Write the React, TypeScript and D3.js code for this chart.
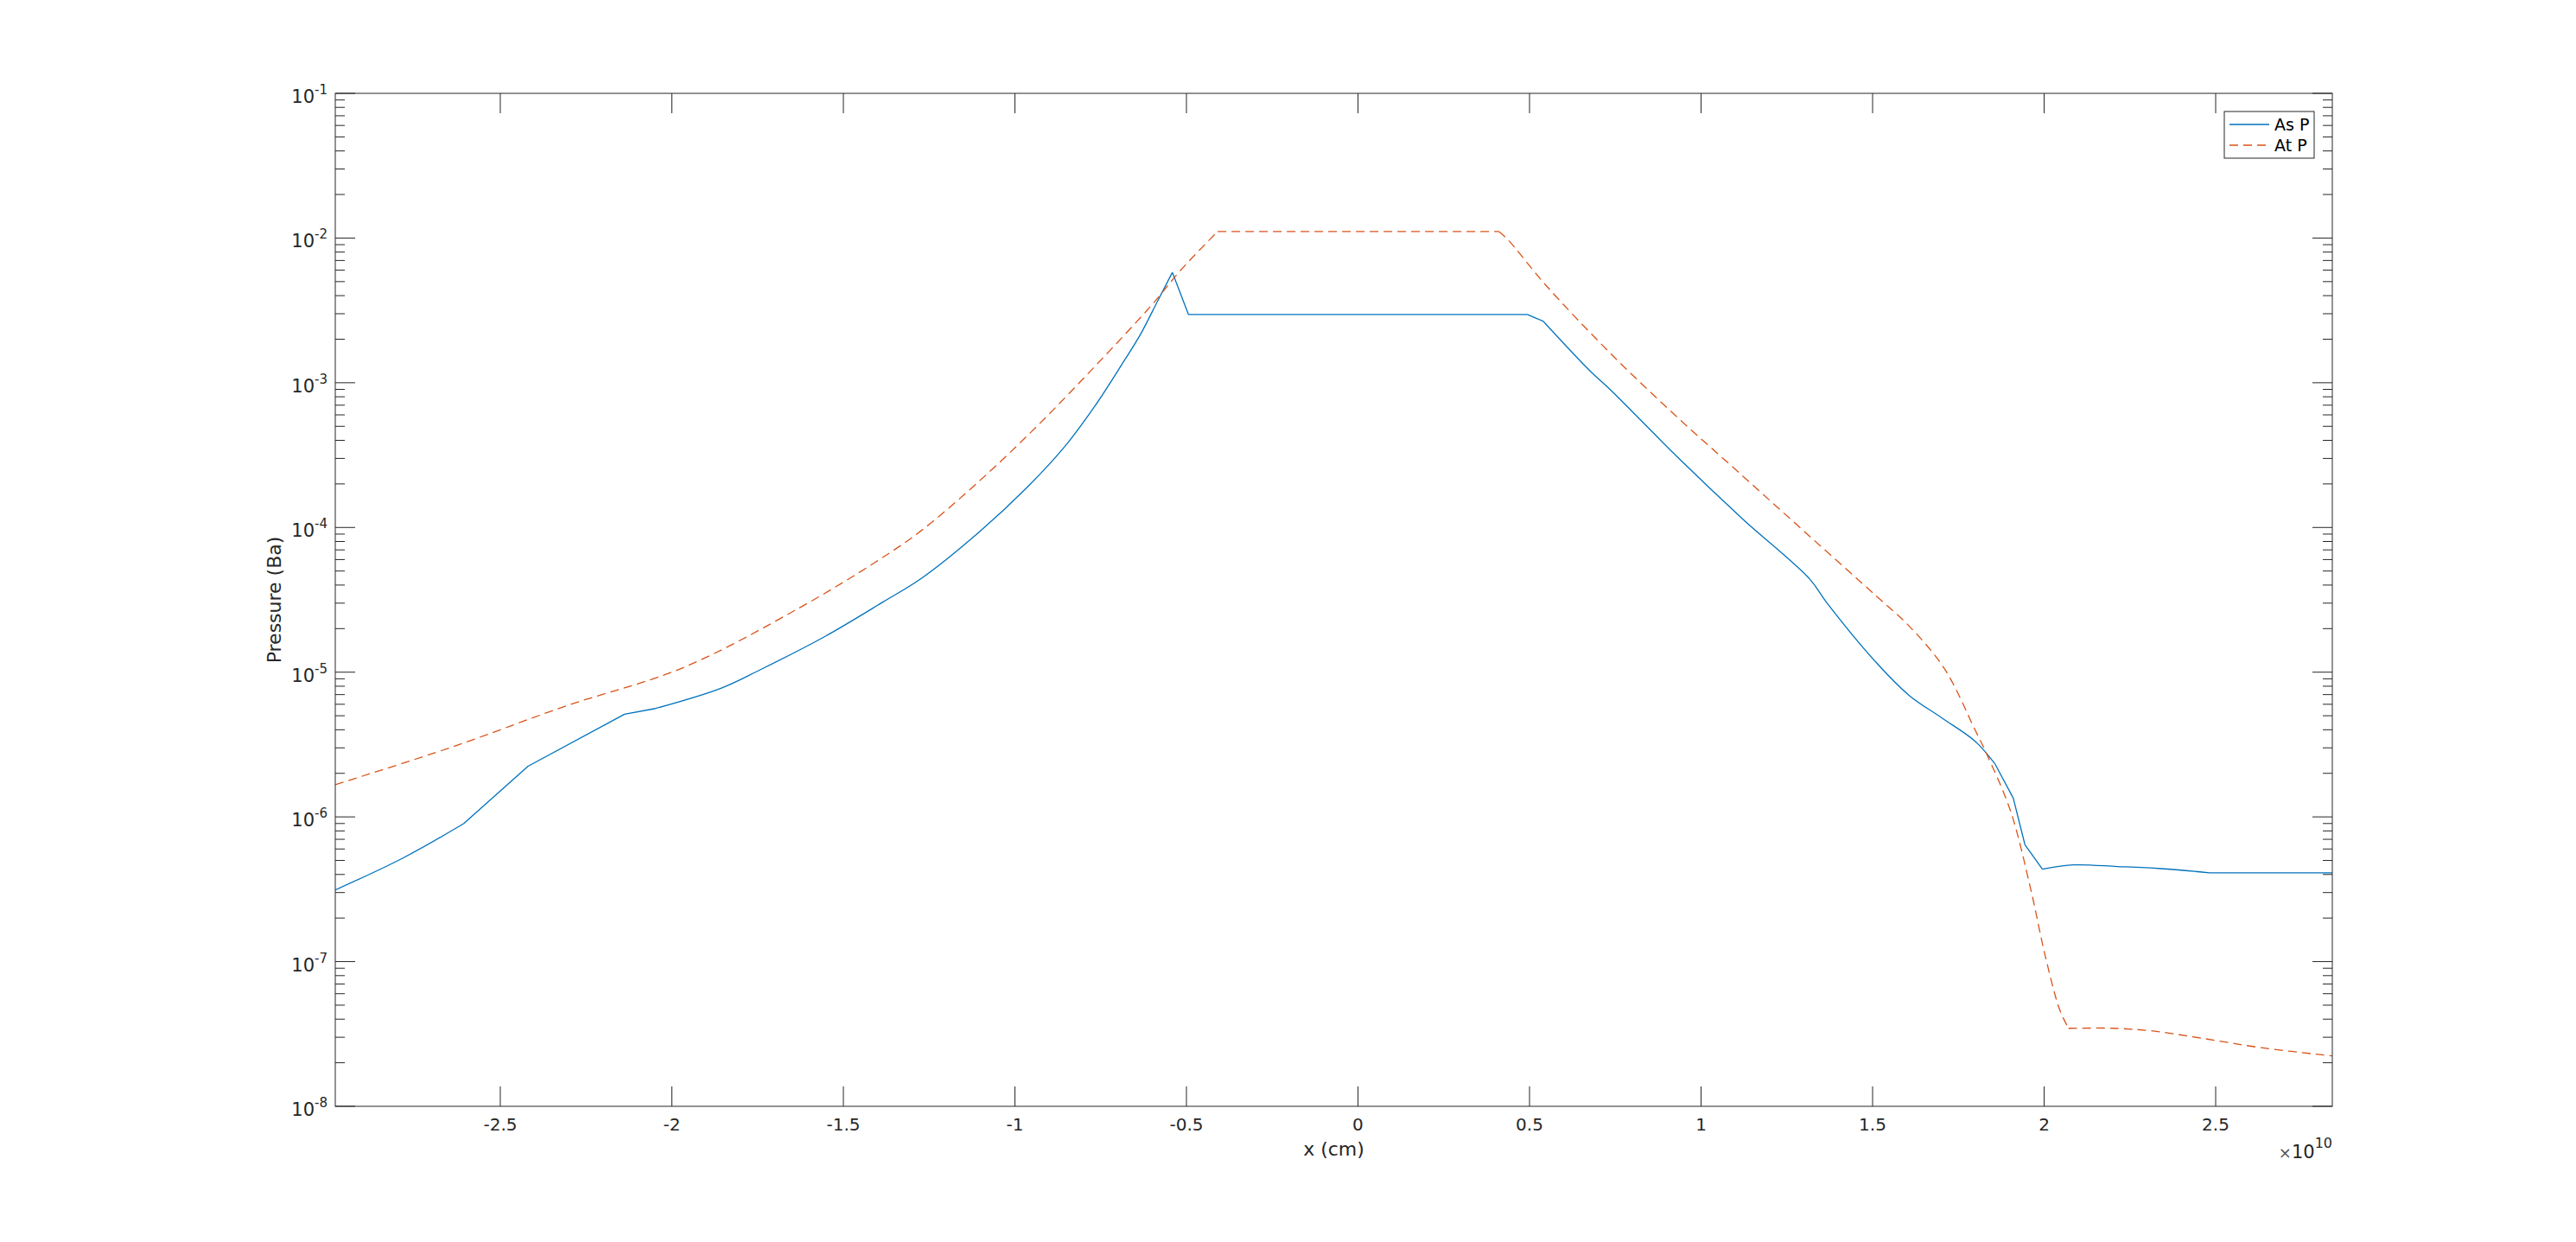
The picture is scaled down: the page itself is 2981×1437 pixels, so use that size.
import React from 'react';
import * as d3 from 'd3';

// x positions are in units of 1e10 cm
const asPX = [
  -2.981, -2.785, -2.607, -2.419, -2.138, -2.048, -1.857, -1.744, -1.553, -1.384,
  -1.272, -1.104, -0.961, -0.852, -0.768, -0.684, -0.634, -0.583, -0.541, -0.494,
  0.494, 0.54, 0.676, 0.739, 0.931, 1.124, 1.317, 1.366, 1.51, 1.606,
  1.703, 1.799, 1.857, 1.91, 1.944, 1.995, 2.087, 2.213, 2.339, 2.482, 2.84,
];
const asPY = [
  3.13e-7, 5.18e-7, 8.97e-7, 2.24e-6, 5.12e-6, 5.61e-6, 7.74e-6, 1.035e-5, 1.77e-5, 3.06e-5,
  4.46e-5, 9.31e-5, 1.93e-4, 3.69e-4, 6.84e-4, 1.39e-3, 2.16e-3, 3.71e-3, 5.79e-3, 2.96e-3,
  2.96e-3, 2.66e-3, 1.21e-3, 8.79e-4, 3.07e-4, 1.13e-4, 4.39e-5, 3.03e-5, 1.17e-5, 6.93e-6,
  4.81e-6, 3.33e-6, 2.32e-6, 1.35e-6, 6.43e-7, 4.35e-7, 4.66e-7, 4.54e-7, 4.39e-7, 4.11e-7, 4.11e-7,
];
// sharp corners in the As P curve (x values where the line bends abruptly)
const asPCorners = [
  -2.607, -2.419, -2.138, -2.048, -0.541, -0.494, 0.494, 0.54, 1.857, 1.91, 1.944, 1.995, 2.482,
];

const atPX = [
  -2.981, -2.644, -2.306, -1.969, -1.632, -1.407, -1.272, -1.104, -0.936, -0.768,
  -0.6, -0.516, -0.409, 0.41, 0.435, 0.547, 0.739, 0.931, 1.124, 1.317,
  1.51, 1.606, 1.709, 1.799, 1.831, 1.902, 1.961, 2.003, 2.045, 2.071,
  2.205, 2.323, 2.465, 2.633, 2.84,
];
const atPY = [
  1.67e-6, 3.02e-6, 5.87e-6, 1.07e-5, 2.75e-5, 5.75e-5, 9.55e-5, 2.09e-4, 5.0e-4, 1.29e-3,
  3.47e-3, 6.03e-3, 1.11e-2, 1.11e-2, 9.86e-3, 4.74e-3, 1.57e-3, 5.77e-4, 2.24e-4, 8.67e-5,
  3.37e-5, 2.09e-5, 1.06e-5, 3.98e-6, 2.77e-6, 1.1e-6, 3.16e-7, 1.1e-7, 4.68e-8, 3.46e-8,
  3.46e-8, 3.3e-8, 2.94e-8, 2.54e-8, 2.23e-8,
];
const atPCorners = [-0.409, 0.41, 2.071];

const xTicks = [-2.5, -2, -1.5, -1, -0.5, 0, 0.5, 1, 1.5, 2, 2.5];
const xTickLabels = ['-2.5', '-2', '-1.5', '-1', '-0.5', '0', '0.5', '1', '1.5', '2', '2.5'];
const yExponents = [-8, -7, -6, -5, -4, -3, -2, -1];

const W = 2981;
const H = 1437;
const margin = { left: 388, top: 108, right: 2699, bottom: 1280 };
const axisColor = '#262626';
const font = '"DejaVu Sans", sans-serif';

// split a series into pieces at the corner x values, so that each piece
// can be smoothed on its own and the corners stay sharp
function splitAt(xs: number[], ys: number[], corners: number[]) {
  const pieces: [number, number][][] = [];
  let cur: [number, number][] = [];
  xs.forEach((v, i) => {
    cur.push([v, ys[i]]);
    if (corners.includes(v) && i > 0 && i < xs.length - 1) {
      pieces.push(cur);
      cur = [[v, ys[i]]];
    }
  });
  if (cur.length > 1) pieces.push(cur);
  return pieces;
}

export default function App() {
  const x = d3.scaleLinear().domain([-2.981, 2.84]).range([margin.left, margin.right]);
  const y = d3.scaleLog().domain([1e-8, 1e-1]).range([margin.bottom, margin.top]);

  const line = d3
    .line<[number, number]>()
    .x((d) => x(d[0]))
    .y((d) => y(d[1]))
    .curve(d3.curveCatmullRom.alpha(0.5));

  const pathOf = (pieces: [number, number][][]) => pieces.map((p) => line(p) ?? '').join('');

  const asPPath = pathOf(splitAt(asPX, asPY, asPCorners));
  const atPPath = pathOf(splitAt(atPX, atPY, atPCorners));

  const majorLen = 23;
  const minorLen = 11;

  // minor ticks 2..9 in each decade
  const minor: number[] = [];
  for (let e = -8; e < -1; e++) {
    for (let m = 2; m <= 9; m++) minor.push(m * Math.pow(10, e));
  }

  const pw = margin.right - margin.left;
  const ph = margin.bottom - margin.top;

  return (
    <svg
      width={W}
      height={H}
      style={{ position: 'absolute', left: 0, top: 0, background: '#fff' }}
      fontFamily={font}
    >
      <rect x={0} y={0} width={W} height={H} fill="#fff" />
      <defs>
        <clipPath id="plot-clip">
          <rect x={margin.left} y={margin.top} width={pw} height={ph} />
        </clipPath>
      </defs>

      {/* x ticks, bottom and top */}
      {xTicks.map((t) => (
        <g key={'xt' + t} stroke={axisColor} strokeWidth={1}>
          <line x1={x(t)} x2={x(t)} y1={margin.bottom} y2={margin.bottom - majorLen} />
          <line x1={x(t)} x2={x(t)} y1={margin.top} y2={margin.top + majorLen} />
        </g>
      ))}
      {xTicks.map((t, i) => (
        <text
          key={'xl' + t}
          x={x(t)}
          y={margin.bottom + 28}
          textAnchor="middle"
          fontSize={20}
          fill={axisColor}
        >
          {xTickLabels[i]}
        </text>
      ))}

      {/* y ticks, left and right */}
      {yExponents.map((e) => {
        const py = y(Math.pow(10, e));
        return (
          <g key={'yt' + e} stroke={axisColor} strokeWidth={1}>
            <line x1={margin.left} x2={margin.left + majorLen} y1={py} y2={py} />
            <line x1={margin.right} x2={margin.right - majorLen} y1={py} y2={py} />
          </g>
        );
      })}
      {minor.map((v) => {
        const py = y(v);
        return (
          <g key={'ym' + v} stroke={axisColor} strokeWidth={1}>
            <line x1={margin.left} x2={margin.left + minorLen} y1={py} y2={py} />
            <line x1={margin.right} x2={margin.right - minorLen} y1={py} y2={py} />
          </g>
        );
      })}
      {yExponents.map((e) => (
        <text
          key={'yl' + e}
          x={margin.left - 9}
          y={y(Math.pow(10, e)) + 11}
          textAnchor="end"
          fontSize={21}
          fill={axisColor}
        >
          <tspan>10</tspan>
          <tspan dy={-10} fontSize={15}>
            {String(e)}
          </tspan>
        </text>
      ))}

      {/* series */}
      <g clipPath="url(#plot-clip)" fill="none">
        <path d={asPPath} stroke="#0072BD" strokeWidth={1.3} strokeLinejoin="round" />
        <path d={atPPath} stroke="#D95319" strokeWidth={1.3} strokeDasharray="10 6" />
      </g>

      {/* axes box */}
      <rect
        x={margin.left}
        y={margin.top}
        width={pw}
        height={ph}
        fill="none"
        stroke={axisColor}
        strokeWidth={1}
      />

      {/* axis labels */}
      <text
        x={(margin.left + margin.right) / 2}
        y={1337}
        textAnchor="middle"
        fontSize={22}
        fill={axisColor}
      >
        x (cm)
      </text>
      <text
        transform={`translate(325, ${(margin.top + margin.bottom) / 2}) rotate(-90)`}
        textAnchor="middle"
        fontSize={22}
        fill={axisColor}
      >
        Pressure (Ba)
      </text>

      {/* exponent multiplier */}
      <text x={margin.right} y={1340} textAnchor="end" fontSize={21} fill={axisColor}>
        <tspan fontSize={18} fill="#555">×</tspan>
        <tspan>10</tspan>
        <tspan dy={-12} fontSize={16}>10</tspan>
      </text>

      {/* legend */}
      <g>
        <rect x={2574} y={129} width={104} height={54} fill="#fff" stroke={axisColor} strokeWidth={1} />
        <line x1={2580} x2={2626} y1={144} y2={144} stroke="#0072BD" strokeWidth={1.3} />
        <line
          x1={2580}
          x2={2626}
          y1={168}
          y2={168}
          stroke="#D95319"
          strokeWidth={1.3}
          strokeDasharray="10 6"
        />
        <text x={2632} y={151} fontSize={19} fill="#000">
          As P
        </text>
        <text x={2632} y={175} fontSize={19} fill="#000">
          At P
        </text>
      </g>
    </svg>
  );
}
